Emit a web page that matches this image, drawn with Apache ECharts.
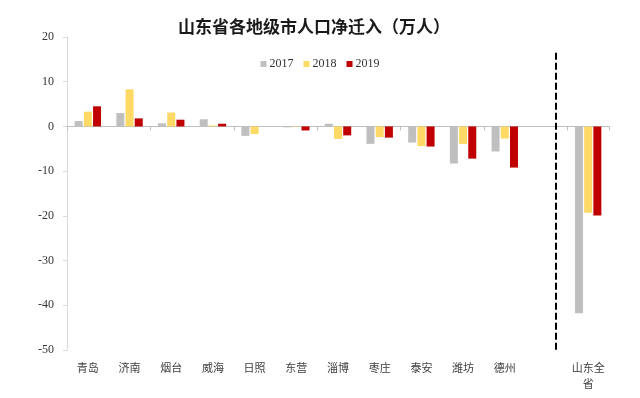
<!DOCTYPE html>
<html>
<head>
<meta charset="utf-8">
<script src="https://cdn.jsdelivr.net/npm/echarts@6/dist/echarts.min.js"></script>
<style>
  html, body { margin: 0; padding: 0; background: #fff; }
  #chart { width: 640px; height: 398px; }
</style>
</head>
<body>
<div id="chart"></div>
<script>
const categories = ['青岛', '济南', '烟台', '威海', '日照', '东营', '淄博', '枣庄', '泰安', '潍坊', '德州', '', '山东全省'];
const seriesNames = ['2017', '2018', '2019'];
const values2017 = [1.2, 3.0, 0.7, 1.6, -2.1, -0.2, 0.6, -3.9, -3.6, -8.3, -5.6, '-', -41.8];
const values2018 = [3.3, 8.3, 3.1, 0.2, -1.7, -0.1, -2.8, -2.4, -4.4, -3.9, -2.7, '-', -19.3];
const values2019 = [4.5, 1.8, 1.5, 0.6, 0, -0.9, -2.0, -2.5, -4.5, -7.2, -9.2, '-', -19.9];
const yTicks = { min: -50, max: 20, interval: 10 };
const colors = ['#BFBFBF', '#FFD966', '#C00000'];

const chart = echarts.init(document.getElementById('chart'));
const serif = '"Liberation Serif", "DejaVu Serif", serif';
const cjk = '"Noto Sans CJK SC", sans-serif';

function bar(name, data, color, extra) {
  return Object.assign({
    name: name,
    type: 'bar',
    xAxisIndex: 0,
    data: data,
    barWidth: 8,
    barGap: '15%',
    itemStyle: { color: color },
    emphasis: { disabled: true }
  }, extra || {});
}

chart.setOption({
  animation: false,
  title: {
    text: '山东省各地级市人口净迁入（万人）',
    left: 173,
    top: 13,
    textStyle: { fontFamily: cjk, fontSize: 17, fontWeight: 'bold', color: '#1a1a1a' }
  },
  legend: {
    data: seriesNames,
    left: 'center',
    top: 53,
    icon: 'rect',
    itemWidth: 6,
    itemHeight: 6,
    itemGap: 10,
    textStyle: { fontFamily: serif, fontSize: 12, color: '#333333', padding: [0, 0, 0, -2] }
  },
  grid: { left: 67, right: 31, top: 37, bottom: 48, containLabel: false },
  xAxis: [
    {
      type: 'category',
      data: categories,
      position: 'bottom',
      axisLine: { onZero: true, lineStyle: { color: '#BFBFBF', width: 1 } },
      axisTick: { show: true, length: 4, lineStyle: { color: '#BFBFBF' } },
      axisLabel: { show: false }
    },
    {
      type: 'category',
      data: categories,
      position: 'bottom',
      axisLine: { show: false, onZero: false },
      axisTick: { show: false },
      axisLabel: {
        show: true,
        interval: 0,
        margin: 10,
        width: 36,
        overflow: 'break',
        lineHeight: 16,
        fontFamily: cjk,
        fontSize: 11,
        color: '#404040'
      }
    }
  ],
  yAxis: {
    type: 'value',
    min: yTicks.min,
    max: yTicks.max,
    interval: yTicks.interval,
    axisLine: { show: true, lineStyle: { color: '#D9D9D9', width: 1 } },
    axisTick: { show: true, length: 4, lineStyle: { color: '#D9D9D9' } },
    splitLine: { show: false },
    axisLabel: { margin: 13, fontFamily: serif, fontSize: 12, color: '#333333' }
  },
  series: [
    bar(seriesNames[0], values2017, colors[0]),
    bar(seriesNames[1], values2018, colors[1]),
    bar(seriesNames[2], values2019, colors[2], {
      markLine: {
        silent: true,
        symbol: 'none',
        label: { show: false },
        lineStyle: { color: '#000', width: 2, type: [7, 3] },
        data: [[{ coord: [11, 16.5] }, { coord: [11, -50] }]]
      }
    })
  ]
});
</script>
</body>
</html>
